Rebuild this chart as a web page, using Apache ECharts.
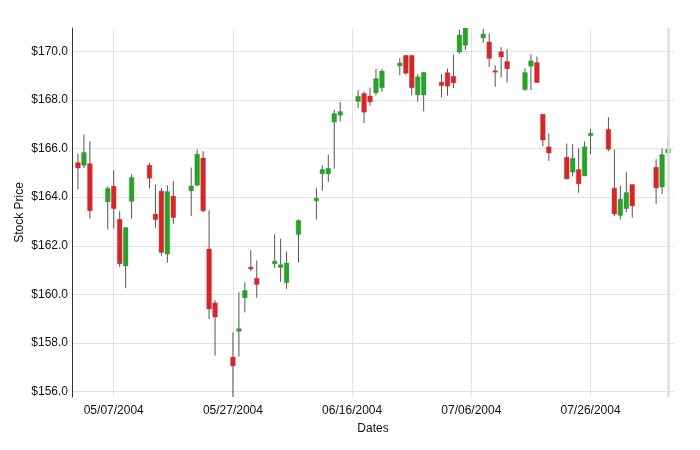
<!DOCTYPE html>
<html>
<head>
<meta charset="utf-8">
<script src="https://cdn.jsdelivr.net/npm/echarts@6/dist/echarts.min.js"></script>
<style>
  html, body { margin: 0; padding: 0; background: #fff; }
  #chart { width: 700px; height: 450px; }
</style>
</head>
<body>
<div id="chart"></div>
<script>
// ---- data ----
const dates = [
  '2004-05-01','2004-05-02','2004-05-03','2004-05-06','2004-05-07','2004-05-08','2004-05-09','2004-05-10',
  '2004-05-13','2004-05-14','2004-05-15','2004-05-16','2004-05-17','2004-05-20','2004-05-21','2004-05-22',
  '2004-05-23','2004-05-24','2004-05-27','2004-05-28','2004-05-29','2004-05-30','2004-05-31','2004-06-03',
  '2004-06-04','2004-06-05','2004-06-07','2004-06-10','2004-06-11','2004-06-12','2004-06-13','2004-06-14',
  '2004-06-17','2004-06-18','2004-06-19','2004-06-20','2004-06-21','2004-06-24','2004-06-25','2004-06-26',
  '2004-06-27','2004-06-28','2004-07-01','2004-07-02','2004-07-03','2004-07-04','2004-07-05','2004-07-08',
  '2004-07-09','2004-07-10','2004-07-11','2004-07-12','2004-07-15','2004-07-16','2004-07-17','2004-07-18',
  '2004-07-19','2004-07-22','2004-07-23','2004-07-24','2004-07-25','2004-07-26','2004-07-29','2004-07-30',
  '2004-07-31','2004-08-01','2004-08-02','2004-08-06','2004-08-07','2004-08-08'
];
const open = [
  165.42,165.31,165.38,163.81,164.45,163.09,161.17,163.83,
  165.31,163.30,164.25,161.66,164.04,164.26,164.49,165.61,
  161.87,159.65,157.42,158.48,159.86,161.12,160.66,161.26,
  161.11,160.48,162.47,163.85,164.96,164.96,167.09,167.37,
  167.94,168.26,168.16,168.29,168.50,169.40,169.83,169.83,
  168.21,168.21,168.73,169.12,168.97,169.97,170.25,170.55,
  170.38,169.20,169.98,169.58,168.43,169.39,169.54,167.41,
  166.07,165.64,165.03,165.14,164.87,166.53,166.79,164.37,
  163.25,163.53,164.52,165.23,164.42,165.82
];
const close = [
  165.20,165.84,163.44,164.36,163.53,161.26,162.75,164.81,
  164.78,163.08,161.73,164.23,163.16,164.46,165.77,163.44,
  159.40,159.07,157.06,158.59,160.16,161.05,160.41,161.37,
  161.22,161.29,163.04,163.96,165.14,165.19,167.44,167.52,
  168.15,167.50,167.92,168.88,169.19,169.52,169.10,168.50,
  168.95,169.13,168.59,168.57,168.70,170.67,170.96,170.71,
  169.71,169.16,169.77,169.28,169.13,169.61,168.72,166.35,
  165.82,164.75,165.60,164.55,166.07,166.63,165.97,163.31,
  163.92,164.19,163.64,164.38,165.75,165.97
];
const low = [
  164.33,165.20,163.12,162.67,162.71,161.13,160.25,163.12,
  164.36,162.74,161.59,161.30,162.90,163.23,164.45,163.38,
  158.98,157.48,155.78,157.44,159.26,160.96,159.86,161.09,
  160.52,160.23,161.31,163.08,164.27,164.63,165.18,167.12,
  167.67,167.05,167.76,168.19,168.33,169.02,169.03,168.18,
  167.93,167.53,168.11,168.18,168.48,169.91,170.05,170.35,
  169.36,168.54,168.93,168.72,168.38,168.41,168.71,166.09,
  165.49,164.75,164.86,164.18,164.87,165.77,165.89,163.22,
  163.08,163.38,163.16,163.71,164.13,165.72
];
const high = [
  165.79,166.58,166.30,164.45,165.11,163.42,162.75,164.94,
  165.41,164.52,164.38,164.49,164.66,165.22,165.96,165.89,
  163.46,159.76,158.44,160.09,160.50,161.82,161.40,162.47,
  162.29,161.77,163.08,164.38,165.31,165.75,167.60,167.92,
  168.40,168.35,168.51,169.28,169.27,169.72,169.86,169.86,
  169.06,169.16,169.06,169.29,169.86,170.90,170.96,170.93,
  170.74,169.42,170.17,170.09,169.30,169.88,169.79,167.41,
  166.62,166.21,166.19,166.01,166.29,166.82,167.29,165.97,
  164.48,165.03,164.52,165.56,166.00,166.38
];
const xTickLabels = ['05/07/2004','05/27/2004','06/16/2004','07/06/2004','07/26/2004'];

// ---- helpers ----
const DAY = 86400000;
function isoToUTC(s) { const p = s.split('-').map(Number); return Date.UTC(p[0], p[1]-1, p[2]); }
function mdyToUTC(s) { const p = s.split('/').map(Number); return Date.UTC(p[2], p[0]-1, p[1]); }
const origin = mdyToUTC(xTickLabels[0]);
function dayOf(iso) { return Math.round((isoToUTC(iso) - origin) / DAY); }
function fmtDay(v) {
  const d = new Date(origin + Math.round(v) * DAY);
  const mm = String(d.getUTCMonth()+1).padStart(2,'0');
  const dd = String(d.getUTCDate()).padStart(2,'0');
  return mm + '/' + dd + '/' + d.getUTCFullYear();
}
const xs = dates.map(dayOf);
const seriesData = xs.map((x, i) => [x, open[i], close[i], low[i], high[i]]);
const xMin = xs[0] - 1, xMax = xs[xs.length-1] + 1;

const UP = '#2ca02c', DOWN = '#d62728';
const FONT = 'Liberation Sans, Arial, Helvetica, sans-serif';

const chart = echarts.init(document.getElementById('chart'), null, { renderer: 'canvas' });
chart.setOption({
  animation: false,
  backgroundColor: '#ffffff',
  textStyle: { fontFamily: FONT },
  grid: { left: 72, right: 26, top: 28, bottom: 53, containLabel: false },
  xAxis: {
    type: 'value',
    min: xMin, max: xMax,
    minInterval: 20, maxInterval: 20,
    name: 'Dates', nameLocation: 'middle', nameGap: 26,
    nameTextStyle: { color: '#111', fontSize: 12, fontFamily: FONT },
    axisLine: { show: false, onZero: false },
    axisTick: { show: false },
    axisLabel: {
      color: '#111', fontSize: 12, fontFamily: FONT, margin: 8,
      showMinLabel: false, showMaxLabel: false,
      formatter: v => { const s = fmtDay(v); return (Math.abs(v - Math.round(v)) < 1e-6 && xTickLabels.includes(s)) ? s : ''; }
    },
    splitLine: { show: true, showMinLine: false, showMaxLine: false, lineStyle: { color: '#e3e3e3', width: 1 } }
  },
  yAxis: {
    type: 'value',
    min: 'dataMin', max: 'dataMax',
    minInterval: 2, maxInterval: 2,
    name: 'Stock Price', nameLocation: 'middle', nameGap: 46, nameRotate: 90,
    nameMoveOverlap: false,
    nameTextStyle: { color: '#111', fontSize: 12, fontFamily: FONT },
    axisLine: { show: true, onZero: false, lineStyle: { color: '#333', width: 1 } },
    axisTick: { show: false },
    axisLabel: {
      color: '#111', fontSize: 12, fontFamily: FONT, margin: 4,
      showMinLabel: false, showMaxLabel: false,
      formatter: v => (Math.abs(v/2 - Math.round(v/2)) < 1e-6) ? '$' + v.toFixed(1) : ''
    },
    splitLine: { show: true, showMinLine: false, showMaxLine: false, lineStyle: { color: '#e3e3e3', width: 1 } }
  },
  series: [
    {
      type: 'scatter', data: [], z: 1, silent: true,
      markLine: {
        silent: true, symbol: 'none', animation: false,
        label: { show: false },
        lineStyle: { color: '#dedede', width: 2.5, type: 'solid' },
        data: [{ xAxis: xs[xs.length-1] }]
      }
    },
    {
      type: 'custom',
      z: 3,
      clip: true,
      data: seriesData,
      encode: { x: 0, y: [1, 2, 3, 4] },
      renderItem: function (params, api) {
        const x = api.value(0), o = api.value(1), c = api.value(2), l = api.value(3), h = api.value(4);
        const pO = api.coord([x, o]), pC = api.coord([x, c]);
        const pL = api.coord([x, l]), pH = api.coord([x, h]);
        const w = api.size([1, 0])[0] * 0.78;
        const col = c >= o ? UP : DOWN;
        const top = Math.min(pO[1], pC[1]);
        const bh = Math.max(Math.abs(pO[1] - pC[1]), 1.4);
        return {
          type: 'group',
          children: [
            { type: 'line', shape: { x1: pH[0], y1: pH[1], x2: pL[0], y2: pL[1] },
              style: { stroke: '#555', lineWidth: 1 } },
            { type: 'rect', shape: { x: pO[0] - w/2, y: top, width: w, height: bh },
              style: { fill: col, stroke: col, lineWidth: 0.4 } }
          ]
        };
      }
    }
  ]
});
</script>
</body>
</html>
